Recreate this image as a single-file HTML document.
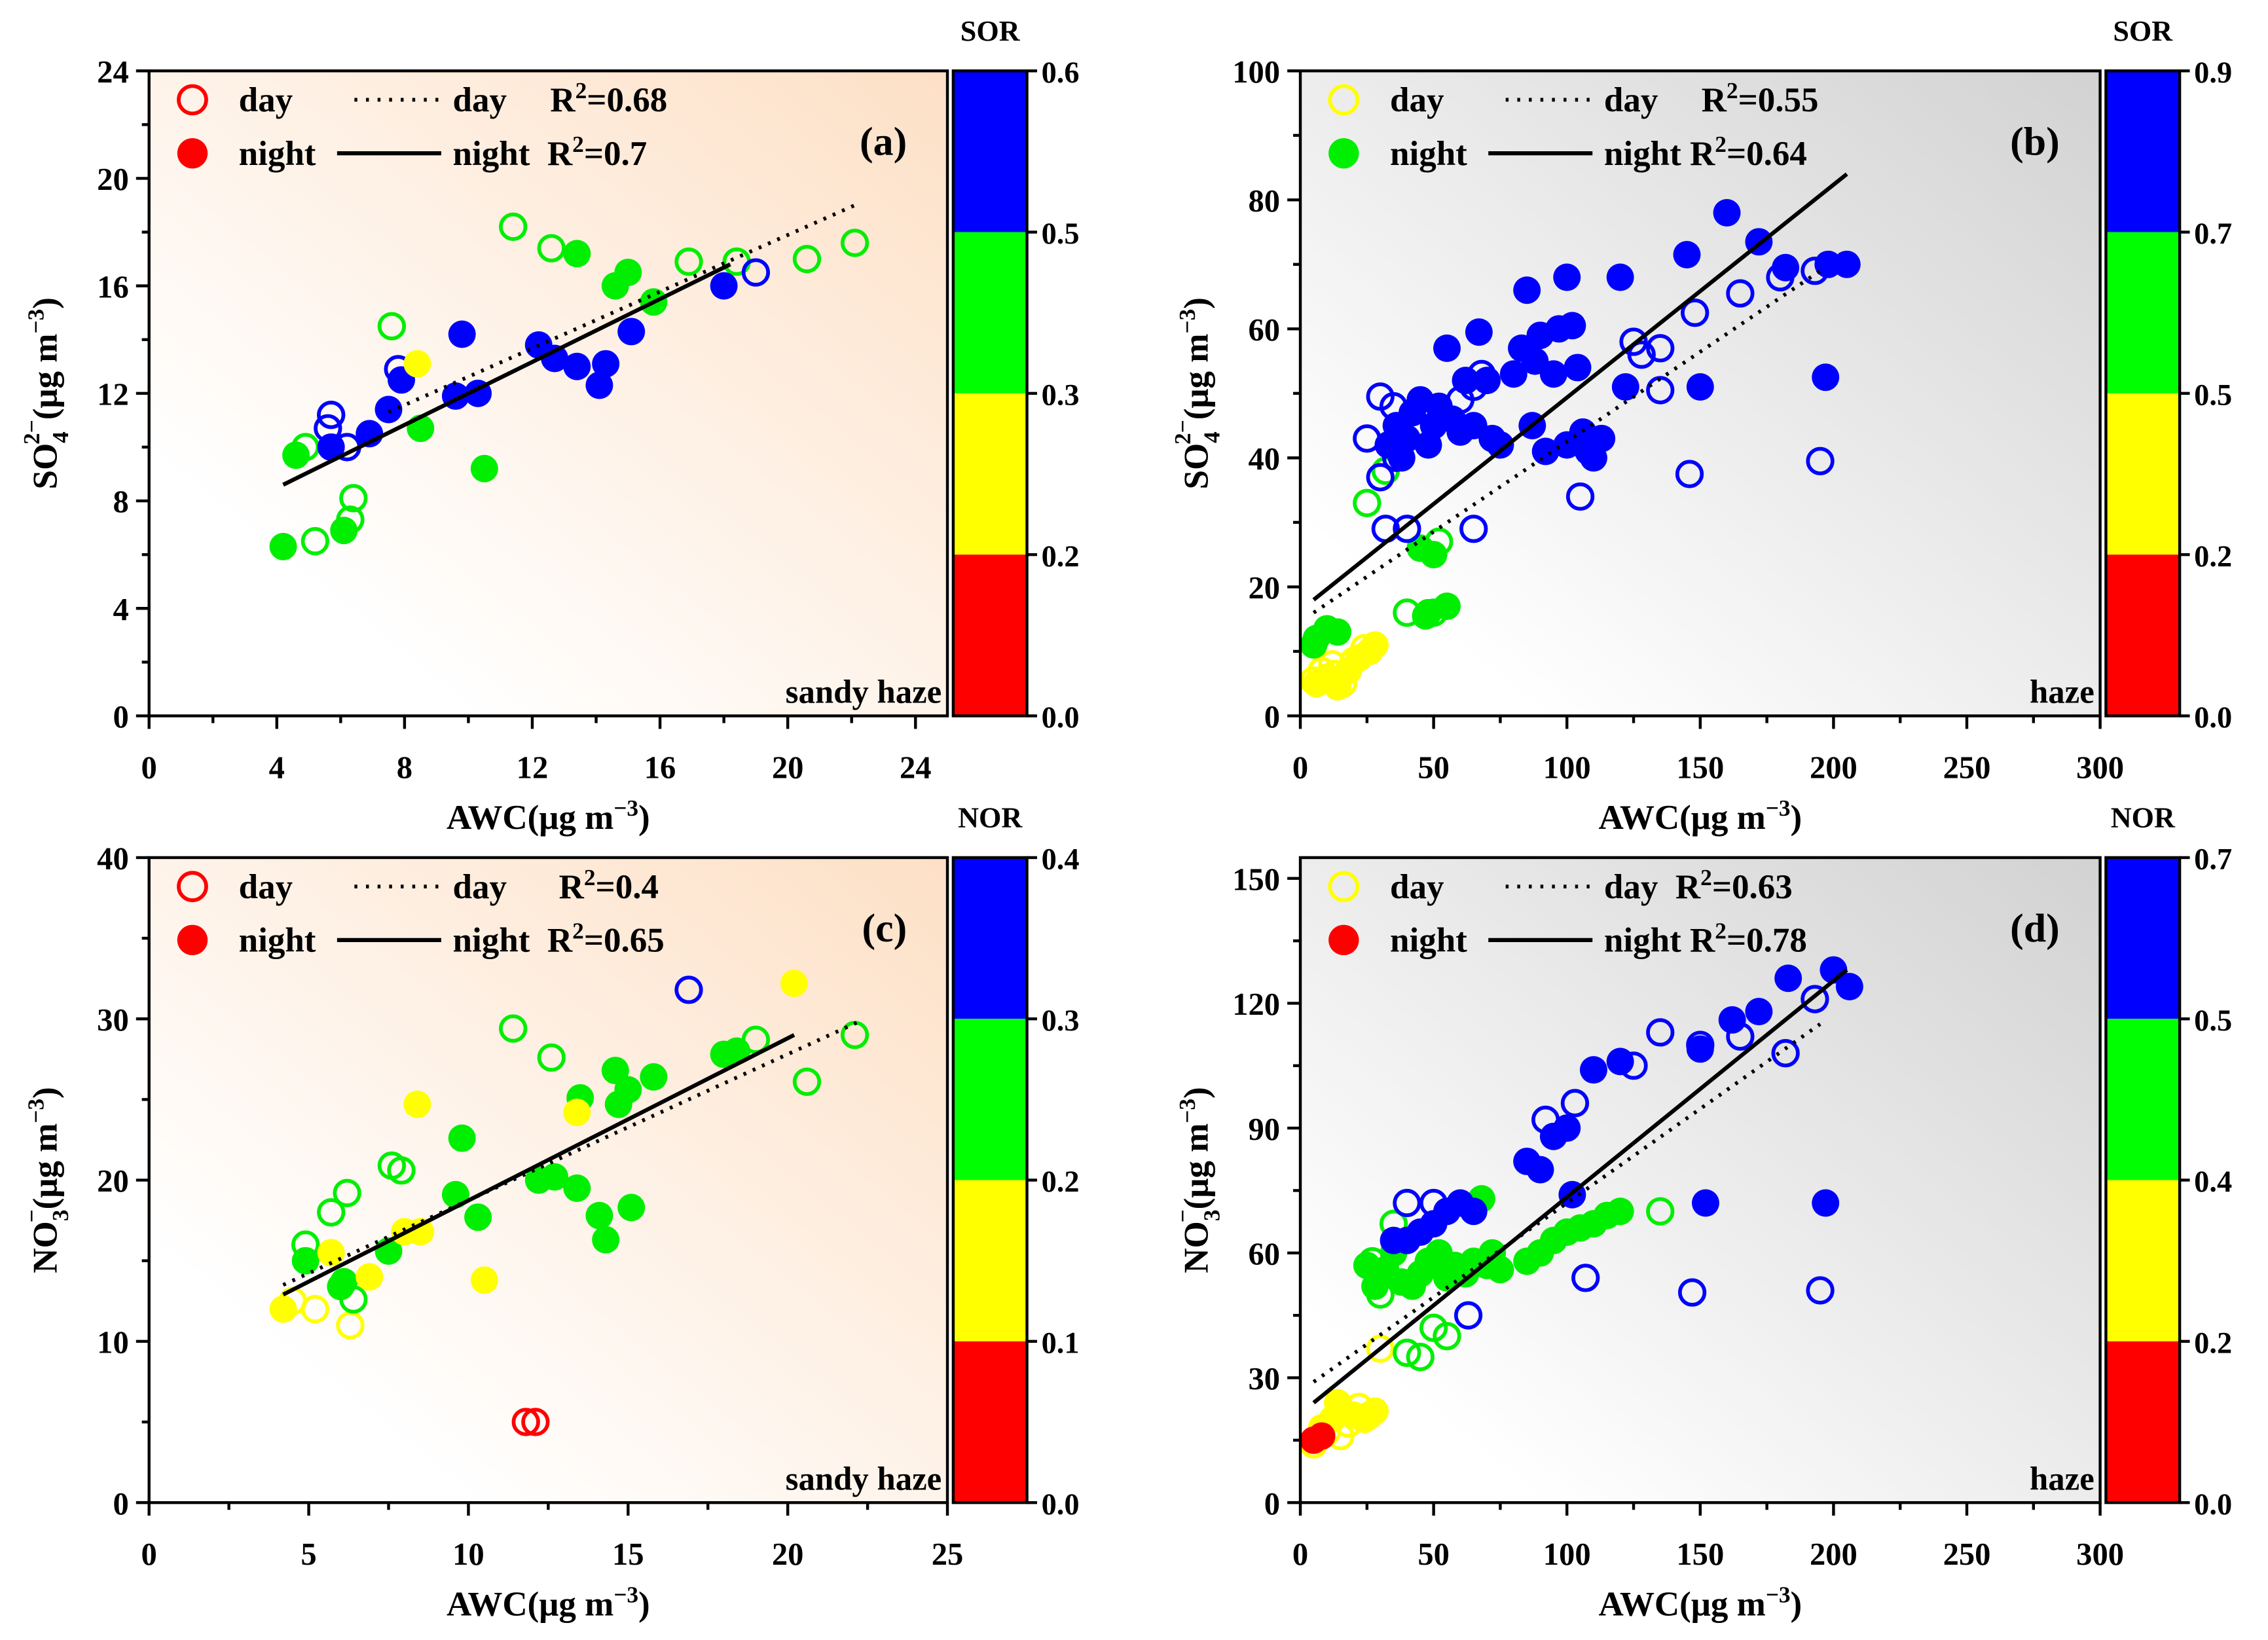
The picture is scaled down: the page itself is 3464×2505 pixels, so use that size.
<!DOCTYPE html>
<html><head><meta charset="utf-8"><style>
html,body{margin:0;padding:0;background:#fff}
svg{display:block}
text{font-family:"Liberation Serif",serif;font-weight:bold;fill:#000}
</style></head><body>
<svg id="fig" width="3464" height="2505" viewBox="0 0 1568 1134" xmlns="http://www.w3.org/2000/svg">
<defs>
<linearGradient id="gPeach" x1="0" y1="1" x2="1" y2="0"><stop offset="0.2" stop-color="#ffffff"/><stop offset="1" stop-color="#fde0c6"/></linearGradient>
<linearGradient id="gGray" x1="0" y1="1" x2="1" y2="0"><stop offset="0.15" stop-color="#ffffff"/><stop offset="1" stop-color="#d2d2d2"/></linearGradient>
</defs>
</svg>
<script>
// ---------- Panel (a) data ----------
const aGreenFilled=[[4.2,6.3],[4.6,9.7],[6.1,6.9],[8.5,10.7],[10.5,9.2],[13.4,17.2],[14.6,16.0],[15.0,16.5],[15.8,15.4]];
const aGreenOpen=[[4.9,10.0],[5.2,6.5],[6.3,7.3],[6.4,8.1],[7.6,14.5],[11.4,18.2],[12.6,17.4],[16.9,16.9],[18.4,16.9],[20.6,17.0],[22.1,17.6]];
const aBlueFilled=[[5.7,10.0],[6.9,10.5],[7.5,11.4],[7.9,12.5],[9.6,11.9],[9.8,14.2],[10.3,12.0],[12.2,13.8],[12.7,13.3],[13.4,13.0],[14.1,12.3],[14.3,13.1],[15.1,14.3],[18.0,16.0]];
const aBlueOpen=[[5.7,11.2],[5.6,10.7],[6.2,10.0],[7.8,12.9],[19.0,16.5]];
const aYellowFilled=[[8.4,13.1]];
const aDayLine=[[7.5,11.3],[22.1,19.0]];
const aNightLine=[[4.2,8.6],[18.2,16.8]];
// ---------- Panel (b) data ----------
const bYellowFilled=[[6,5],[10,6],[14,4.5],[18,7],[22,9],[26,10],[28,11]];
const bYellowOpen=[[5,5.5],[8,7],[12,8],[16,5],[20,8.5],[24,10.5],[13,6.5]];
const bGreenFilled=[[6,12],[10,13.5],[5,11],[14,13],[45,26],[48,16],[55,17],[47,15.5],[50,25]];
const bGreenOpen=[[25,33],[32,38],[40,16],[52,27],[50,16]];
const bBlueFilled=[[33,42],[36,45],[38,40],[40,43],[42,47],[45,49],[48,42],[50,45],[52,48],[55,57],[57,46],[60,44],[62,52],[65,45],[67,59.5],[70,52],[72,43],[75,42],[80,53],[83,57],[85,66],[87,45],[88,55],[90,59],[92,41],[95,53],[97,60],[100,68],[100,42],[102,60.5],[104,54],[106,44],[108,41],[110,40],[113,43],[120,68],[122,51],[145,71.5],[150,51],[160,78],[172,73.5],[182,69.5],[197,52.5],[198,70],[205,70]];
const bBlueOpen=[[25,43],[30,49.5],[30,37],[35,48],[60,49],[65,51],[68,53],[105,34],[125,58],[135,57],[148,62.5],[165,65.5],[180,68],[193,69],[135,50.5],[146,37.5],[195,39.5],[65,29],[40,29],[32,29],[128,56],[36,40]];
const bDayLine=[[5,16],[195,69]];
const bNightLine=[[5,18],[205,84]];
// ---------- Panel (c) data ----------
const cYellowFilled=[[4.2,12],[5.7,15.5],[6.9,14],[8.4,24.7],[10.5,13.8],[13.4,24.2],[20.2,32.2],[8.0,16.8],[8.5,16.8]];
const cYellowOpen=[[5.2,12],[6.3,11],[4.5,12.5]];
const cRedOpen=[[11.8,5],[12.1,5]];
const cGreenFilled=[[4.9,15],[6.1,13.7],[6.0,13.4],[7.5,15.6],[9.6,19.1],[9.8,22.6],[10.3,17.7],[12.2,20],[12.7,20.2],[13.4,19.5],[13.5,25.1],[14.1,17.8],[14.3,16.3],[14.6,26.8],[14.7,24.7],[15.0,25.6],[15.1,18.3],[15.8,26.4],[18.0,27.8],[18.4,28]];
const cGreenOpen=[[4.9,16],[5.7,18],[6.2,19.2],[6.4,12.6],[7.6,20.9],[7.9,20.6],[11.4,29.4],[12.6,27.6],[19.0,28.7],[20.6,26.1],[22.1,29.0]];
const cBlueOpen=[[16.9,31.8]];
const cDayLine=[[4.2,13.5],[22.2,29.8]];
const cNightLine=[[4.2,12.9],[20.2,29.0]];
// ---------- Panel (d) data ----------
const dYellowFilled=[[8,18],[12,20],[16,22],[20,21],[24,20],[28,22],[14,24]];
const dYellowOpen=[[5,14],[10,17],[18,19],[22,23],[26,21],[30,37],[15,16]];
const dRedFilled=[[5,15],[8,16]];
const dGreenFilled=[[25,57],[28,52],[32,56],[35,60],[38,53],[42,52],[45,55],[48,58],[52,60],[55,54],[58,57],[62,55],[65,58],[68,73],[70,57],[72,60],[75,56],[85,58],[90,60],[95,63],[100,65],[105,66],[110,67],[115,69],[120,70]];
const dGreenOpen=[[135,70],[40,36],[45,35],[50,42],[35,67],[30,50],[27,58],[55,40]];
const dBlueFilled=[[35,63],[40,63],[45,65],[50,67],[55,70],[60,72],[65,70],[85,82],[90,80],[95,88],[100,90],[102,74],[110,104],[120,106],[150,109],[162,116],[172,118],[183,126],[200,128],[206,124],[152,72],[197,72]];
const dBlueOpen=[[40,72],[50,72],[63,45],[92,92],[103,96],[107,54],[125,105],[135,113],[147,50.5],[165,112],[182,108],[193,121],[195,51],[150,110]];
const dDayLine=[[5,29],[195,115]];
const dNightLine=[[5,24],[205,128]];
// ---------- ticks / colorbar labels ----------
const aXTicks=[0,4,8,12,16,20,24], aYTicks=[0,4,8,12,16,20,24];
const bXTicks=[0,50,100,150,200,250,300], bYTicks=[0,20,40,60,80,100];
const cXTicks=[0,5,10,15,20,25], cYTicks=[0,10,20,30,40];
const dXTicks=[0,50,100,150,200,250,300], dYTicks=[0,30,60,90,120,150];
const aCbLabels=["0.0","0.2","0.3","0.5","0.6"];
const bCbLabels=["0.0","0.2","0.5","0.7","0.9"];
const cCbLabels=["0.0","0.1","0.2","0.3","0.4"];
const dCbLabels=["0.0","0.2","0.4","0.5","0.7"];

const NS="http://www.w3.org/2000/svg";
const svg=document.getElementById('fig');
const COL={red:"#ff0000",yellow:"#ffff00",green:"#00ee00",blue:"#0000ff"};
function mk(tag,attrs,parent){const e=document.createElementNS(NS,tag);for(const k in attrs)e.setAttribute(k,attrs[k]);(parent||svg).appendChild(e);return e;}
function txt(x,y,s,size,anchor,parent){const t=mk('text',{x:x,y:y,'font-size':size,'text-anchor':anchor||'start'},parent);t.textContent=s;return t;}

function panel(P){
  const g=mk('g',{});
  
  
  const X=v=>P.x0+(v-P.xmin)/(P.xmax-P.xmin)*(P.x1-P.x0);
  const Y=v=>P.y1-(v-P.ymin)/(P.ymax-P.ymin)*(P.y1-P.y0);
  const bg=mk('rect',{x:P.x0,y:P.y0,width:P.x1-P.x0,height:P.y1-P.y0,fill:P.bg},g);
  
  
  function line(pts,dash,w,nm){const l=mk('line',{x1:X(pts[0][0]),y1:Y(pts[0][1]),x2:X(pts[1][0]),y2:Y(pts[1][1]),stroke:'#000','stroke-width':w,'stroke-dasharray':dash},g);
    
    }
  for(const s of P.series){
    for(const p of s.pts){
      const c=mk('circle',{cx:X(p[0]),cy:Y(p[1]),r:s.filled?9.5:8.5,fill:s.filled?COL[s.c]:'none',stroke:COL[s.c],'stroke-width':s.filled?0:2.6},g);
      
      
    }
  }
  line(P.day,'2 5',2.6,'day-fit-line');
  line(P.night,'',2.8,'night-fit-line');
  mk('rect',{x:P.x0,y:P.y0,width:P.x1-P.x0,height:P.y1-P.y0,fill:'none',stroke:'#000','stroke-width':2},g);
  const xa=mk('g',{},g);
  for(let i=0;i<P.xt.length;i++){const v=P.xt[i];
    mk('line',{x1:X(v),x2:X(v),y1:P.y1,y2:P.y1+9,stroke:'#000','stroke-width':2},xa);
    if(i<P.xt.length-1){const m=(v+P.xt[i+1])/2;mk('line',{x1:X(m),x2:X(m),y1:P.y1,y2:P.y1+5,stroke:'#000','stroke-width':2},xa);}
    const t=txt(X(v),P.y1+43,String(v),22,'middle',xa);t.setAttribute('font-weight','normal');}
  const ya=mk('g',{},g);
  for(let i=0;i<P.yt.length;i++){const v=P.yt[i];
    mk('line',{x1:P.x0-9,x2:P.x0,y1:Y(v),y2:Y(v),stroke:'#000','stroke-width':2},ya);
    if(i<P.yt.length-1){const m=(v+P.yt[i+1])/2;mk('line',{x1:P.x0-5,x2:P.x0,y1:Y(m),y2:Y(m),stroke:'#000','stroke-width':2},ya);}
    const t=txt(P.x0-14,Y(v)+8,String(v),22,'end',ya);t.setAttribute('font-weight','normal');}
  const xt=txt((P.x0+P.x1)/2,P.y1+78,'',24,'middle',g);
  
  xt.innerHTML='AWC(μg m<tspan dy="-9" font-size="16">−3</tspan><tspan dy="9">)</tspan>';
  const yx=P.x0-64, yy=(P.y0+P.y1)/2;
  const ytt=mk('text',{x:yx,y:yy,'font-size':24,'text-anchor':'middle',transform:`rotate(-90 ${yx} ${yy})`},g);
  
  ytt.innerHTML=P.ytitle;
  const pl=txt(P.x1-28,P.y0+58,P.label,28,'end',g);
  const rg=txt(P.x1-4,P.y1-9,P.region,23,'end',g);
  const lg=mk('g',{},g);
  const lx=P.x0+30, r1=P.y0+20, r2=P.y0+57;
  mk('circle',{cx:lx,cy:r1,r:9.5,fill:'none',stroke:COL[P.legC],'stroke-width':2.6},lg);
  mk('circle',{cx:lx,cy:r2,r:10.5,fill:COL[P.legN]},lg);
  txt(lx+32,r1+8,'day',24,'start',lg);txt(lx+32,r2+8,'night',24,'start',lg);
  mk('line',{x1:lx+112,x2:lx+172,y1:r1,y2:r1,stroke:'#000','stroke-width':2.6,'stroke-dasharray':'2 6'},lg);
  mk('line',{x1:lx+100,x2:lx+172,y1:r2,y2:r2,stroke:'#000','stroke-width':2.8},lg);
  const d1=txt(lx+180,r1+8,'',24,'start',lg);d1.innerHTML='day'+P.gap1+'R<tspan dy="-9" font-size="16">2</tspan><tspan dy="9">='+P.r2d+'</tspan>';
  d1.style.whiteSpace='pre';
  const d2=txt(lx+180,r2+8,'',24,'start',lg);d2.innerHTML='night'+P.gap2+'R<tspan dy="-9" font-size="16">2</tspan><tspan dy="9">='+P.r2n+'</tspan>';
  d2.style.whiteSpace='pre';
  const cb=mk('g',{},g);
  const cx0=P.x1+4, cw=51, h=(P.y1-P.y0)/4;
  ['blue','green','yellow','red'].forEach((c,i)=>{const r=mk('rect',{x:cx0,y:P.y0+i*h,width:cw,height:h,fill:COL[c]==='#00ee00'?'#00ff00':COL[c]},cb);
    });
  mk('rect',{x:cx0,y:P.y0,width:cw,height:P.y1-P.y0,fill:'none',stroke:'#000','stroke-width':2},cb);
  P.cb.forEach((s,i)=>{const yv=P.y1-i*h;mk('line',{x1:cx0+cw,x2:cx0+cw+7,y1:yv,y2:yv,stroke:'#000','stroke-width':2},cb);
    const t=txt(cx0+cw+10,yv+8,s,21,'start',cb);t.setAttribute('font-weight','normal');});
  const ct=txt(cx0+cw/2,P.y0-21,P.cbTitle,20,'middle',cb);
}
const SO4='SO<tspan dy="8" font-size="16">4</tspan><tspan dy="-20" font-size="16" dx="-9">2−</tspan><tspan dy="12">(μg m</tspan><tspan dy="-9" font-size="16">−3</tspan><tspan dy="9">)</tspan>';
const NO3='NO<tspan dy="8" font-size="16">3</tspan><tspan dy="-20" font-size="16" dx="-9">−</tspan><tspan dy="12">(μg m</tspan><tspan dy="-9" font-size="16">−3</tspan><tspan dy="9">)</tspan>';
panel({name:'panel-a',x0:103,x1:655,y0:49,y1:495,xmin:0,xmax:25,ymin:0,ymax:24,xt:aXTicks,yt:aYTicks,bg:'url(#gPeach)',
 series:[{pts:aGreenOpen,c:'green',filled:false},{pts:aBlueOpen,c:'blue',filled:false},{pts:aGreenFilled,c:'green',filled:true},{pts:aBlueFilled,c:'blue',filled:true},{pts:aYellowFilled,c:'yellow',filled:true}],
 day:aDayLine,night:aNightLine,ytitle:SO4,label:'(a)',region:'sandy haze',legC:'red',legN:'red',gap1:'     ',gap2:'  ',r2d:'0.68',r2n:'0.7',cb:aCbLabels,cbTitle:'SOR'});
panel({name:'panel-b',x0:899,x1:1452,y0:49,y1:495,xmin:0,xmax:300,ymin:0,ymax:100,xt:bXTicks,yt:bYTicks,bg:'url(#gGray)',
 series:[{pts:bYellowOpen,c:'yellow',filled:false},{pts:bYellowFilled,c:'yellow',filled:true},{pts:bGreenOpen,c:'green',filled:false},{pts:bGreenFilled,c:'green',filled:true},{pts:bBlueOpen,c:'blue',filled:false},{pts:bBlueFilled,c:'blue',filled:true}],
 day:bDayLine,night:bNightLine,ytitle:SO4,label:'(b)',region:'haze',legC:'yellow',legN:'green',gap1:'     ',gap2:' ',r2d:'0.55',r2n:'0.64',cb:bCbLabels,cbTitle:'SOR'});
panel({name:'panel-c',x0:103,x1:655,y0:593,y1:1039,xmin:0,xmax:25,ymin:0,ymax:40,xt:cXTicks,yt:cYTicks,bg:'url(#gPeach)',
 series:[{pts:cYellowOpen,c:'yellow',filled:false},{pts:cRedOpen,c:'red',filled:false},{pts:cGreenOpen,c:'green',filled:false},{pts:cBlueOpen,c:'blue',filled:false},{pts:cGreenFilled,c:'green',filled:true},{pts:cYellowFilled,c:'yellow',filled:true}],
 day:cDayLine,night:cNightLine,ytitle:NO3,label:'(c)',region:'sandy haze',legC:'red',legN:'red',gap1:'      ',gap2:'  ',r2d:'0.4',r2n:'0.65',cb:cCbLabels,cbTitle:'NOR'});
panel({name:'panel-d',x0:899,x1:1452,y0:593,y1:1039,xmin:0,xmax:300,ymin:0,ymax:155,xt:dXTicks,yt:dYTicks,bg:'url(#gGray)',
 series:[{pts:dYellowOpen,c:'yellow',filled:false},{pts:dYellowFilled,c:'yellow',filled:true},{pts:dRedFilled,c:'red',filled:true},{pts:dGreenOpen,c:'green',filled:false},{pts:dGreenFilled,c:'green',filled:true},{pts:dBlueOpen,c:'blue',filled:false},{pts:dBlueFilled,c:'blue',filled:true}],
 day:dDayLine,night:dNightLine,ytitle:NO3,label:'(d)',region:'haze',legC:'yellow',legN:'red',gap1:'  ',gap2:' ',r2d:'0.63',r2n:'0.78',cb:dCbLabels,cbTitle:'NOR'});
</script>
</body></html>
